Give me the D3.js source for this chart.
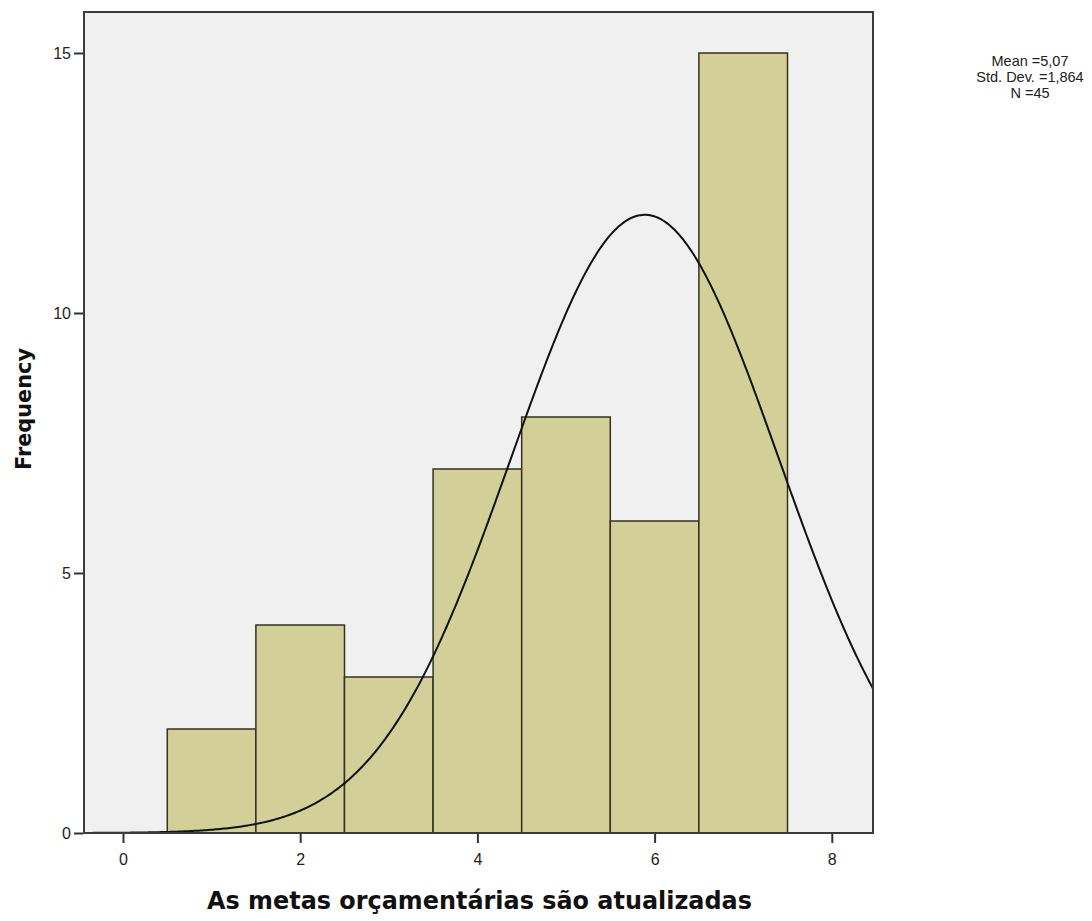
<!DOCTYPE html>
<html><head><meta charset="utf-8">
<script src="https://cdn.jsdelivr.net/npm/d3@7"></script>
<style>body{margin:0;background:#fff}svg{display:block}</style>
</head><body>
<svg id="c" width="1092" height="921"></svg>
<script>
const binCenters = [1, 2, 3, 4, 5, 6, 7];
const frequencies = [2, 4, 3, 7, 8, 6, 15];
const xTicks = [0, 2, 4, 6, 8];
const yTicks = [0, 5, 10, 15];
const statsLines = ["Mean =5,07", "Std. Dev. =1,864", "N =45"];
const curveMean = 5.89, curveSD = 1.51, curveN = 45, binWidth = 1;

const svg = d3.select("#c");
const L = 84, R = 873, T = 12, B = 833;
const x = d3.scaleLinear().domain([-0.44, 8.465]).range([L, R]);
const y = d3.scaleLinear().domain([0, 15]).range([B, B - 15*52]);

svg.append("clipPath").attr("id","clip").append("rect")
  .attr("x",L).attr("y",T).attr("width",R-L).attr("height",B-T);

svg.append("rect").attr("x",L).attr("y",T).attr("width",R-L).attr("height",B-T)
  .attr("fill","#f0f0f0");

svg.append("g").selectAll("rect").data(binCenters).join("rect")
  .attr("x", d => x(d - binWidth/2))
  .attr("width", d => x(d + binWidth/2) - x(d - binWidth/2))
  .attr("y", (d,i) => y(frequencies[i]))
  .attr("height", (d,i) => y(0) - y(frequencies[i]))
  .attr("fill","#d3cf99").attr("stroke","#35321f").attr("stroke-width",1.5);

const pts = d3.range(0, 401).map(i => {
  const v = -0.44 + (8.465 + 0.44) * i / 400;
  const f = curveN * binWidth / (curveSD * Math.sqrt(2*Math.PI)) * Math.exp(-((v-curveMean)**2)/(2*curveSD*curveSD));
  return [v, f];
});
svg.append("path").datum(pts).attr("clip-path","url(#clip)")
  .attr("d", d3.line().x(d=>x(d[0])).y(d=>y(d[1])).curve(d3.curveLinear))
  .attr("fill","none").attr("stroke","#111").attr("stroke-width",2);

svg.append("rect").attr("x",L).attr("y",T).attr("width",R-L).attr("height",B-T)
  .attr("fill","none").attr("stroke","#3c3c3c").attr("stroke-width",2);

const yAxis = svg.append("g").attr("transform",`translate(${L-1},0)`)
  .call(d3.axisLeft(y).tickValues(yTicks).tickSize(9).tickPadding(3).tickFormat(d3.format("d")));
const xAxis = svg.append("g").attr("transform",`translate(0,${B+1})`)
  .call(d3.axisBottom(x).tickValues(xTicks).tickSize(9).tickPadding(11).tickFormat(d3.format("d")));
[yAxis, xAxis].forEach(a => {
  a.select(".domain").remove();
  a.selectAll("line").attr("stroke","#333").attr("stroke-width",2);
  a.selectAll("text").attr("font-family","'Liberation Sans', Arial, sans-serif")
    .attr("font-size",16).attr("fill","#222");
});

const xt = svg.append("text").attr("x",(L+R)/2 + 1).attr("y",909)
  .attr("text-anchor","middle").attr("font-family","'DejaVu Sans', Verdana, sans-serif")
  .attr("font-weight","bold").attr("font-size",20).attr("fill","#111")
  .text("As metas orçamentárias são atualizadas");
const w = xt.node().getComputedTextLength();
xt.attr("font-size", 20 * 545 / w);

const yt = svg.append("text").attr("transform","translate(31,409) rotate(-90)")
  .attr("text-anchor","middle").attr("font-family","'DejaVu Sans', Verdana, sans-serif")
  .attr("font-weight","bold").attr("font-size",20).attr("fill","#111")
  .text("Frequency");
const wy = yt.node().getComputedTextLength();
yt.attr("font-size", 20 * 122 / wy);

svg.append("g").selectAll("text").data(statsLines).join("text")
  .attr("x",1030).attr("y",(d,i)=>66 + i*16)
  .attr("text-anchor","middle").attr("font-family","'Liberation Sans', Arial, sans-serif")
  .attr("font-size",14.5).attr("fill","#222").text(d=>d);
</script>
</body></html>
